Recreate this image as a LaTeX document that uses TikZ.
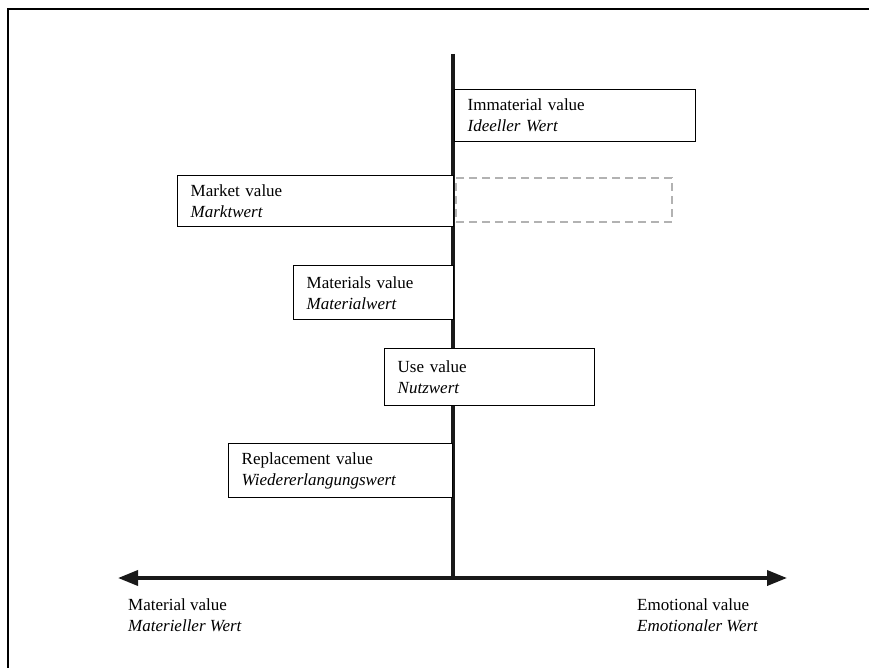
\documentclass[tikz,border=0pt]{standalone}
\usepackage{fontspec}
\setmainfont{Liberation Serif}
\usetikzlibrary{arrows.meta}
\begin{document}
\begin{tikzpicture}[x=1pt,y=-1pt,
  valbox/.style={draw, fill=white, line width=1.4pt, anchor=north west, align=left,
    inner xsep=13pt, inner ysep=0pt, font=\fontsize{17}{21}\selectfont},
  ghostbox/.style={draw=gray!60, dashed, dash pattern=on 8pt off 5pt, line width=2pt, anchor=north west,
    inner sep=0pt},
  axislabel/.style={align=left, inner sep=0pt, font=\fontsize{17}{21}\selectfont},
  axisline/.style={line width=3.6pt, draw=black!90},
]
\useasboundingbox (0,0) rectangle (869,668);
\draw[line width=2.8pt] (8,669) -- (8,9) -- (870,9);

% coordinates of axes
\coordinate (top) at (453,54);
\coordinate (origin) at (453,578);
\coordinate (leftend) at (118,578);
\coordinate (rightend) at (787,578);

\draw[axisline] (top) -- (origin);
\draw[axisline, {Triangle[length=20pt,width=15pt]}-{Triangle[length=20pt,width=15pt]}] (leftend) -- (rightend);

% dashed box
\node[ghostbox, minimum width=216pt, minimum height=44pt] (ghost) at (455,177) {};

% value boxes
\node[valbox, text width=215pt, minimum height=52pt] (imm) at (454,89)
  {Immaterial value\\\textit{Ideeller Wert}};
\node[valbox, text width=250pt, minimum height=51pt] (market) at (177,175)
  {Market value\\\textit{Marktwert}};
\node[valbox, text width=134pt, minimum height=54pt] (materials) at (293,265)
  {Materials value\\\textit{Materialwert}};
\node[valbox, text width=184pt, minimum height=57pt] (use) at (384,348)
  {Use value\\\textit{Nutzwert}};
\node[valbox, text width=198pt, minimum height=54pt] (repl) at (228,443)
  {Replacement value\\\textit{Wiedererlangungswert}};

% axis labels
\node[axislabel, anchor=north west] (matl) at (128,598)
  {Material value\\\textit{Materieller Wert}};
\node[axislabel, anchor=north west] (emot) at (637,598)
  {Emotional value\\\textit{Emotionaler Wert}};
\end{tikzpicture}
\end{document}
